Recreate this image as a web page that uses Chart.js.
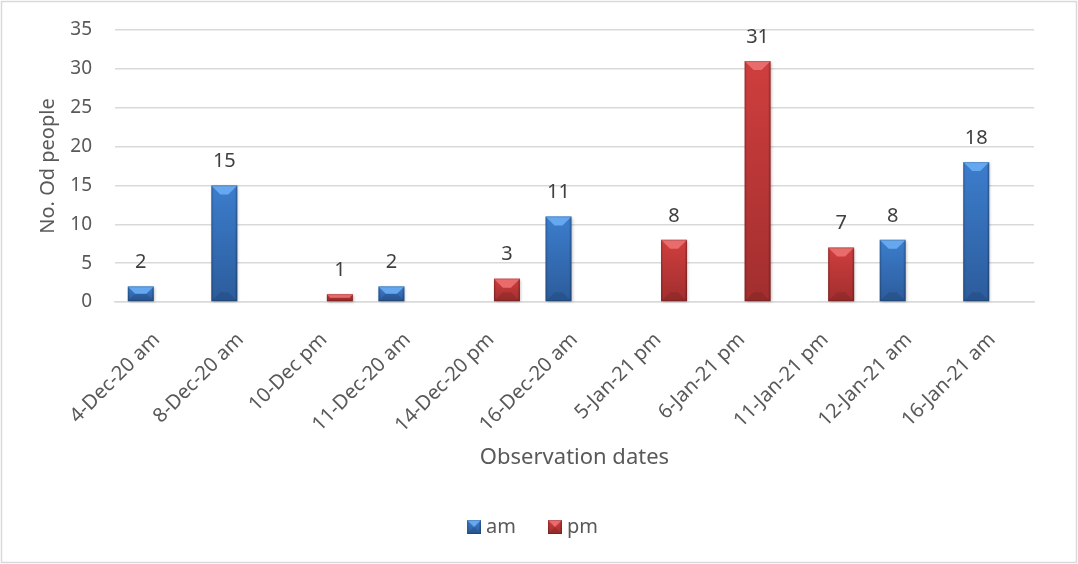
<!DOCTYPE html>
<html>
<head>
<meta charset="utf-8">
<title>Observations</title>
<script src="https://cdn.jsdelivr.net/npm/chart.js@4/dist/chart.umd.min.js"></script>
<style>
  html, body { margin: 0; padding: 0; background: #fff; }
  #wrap { width: 1078px; height: 564px; }
</style>
</head>
<body>
<div id="wrap"><canvas id="myChart" width="1078" height="564"></canvas></div>
<script>
// observation sessions and head counts
const categories = ['4-Dec-20 am', '8-Dec-20 am', '10-Dec pm', '11-Dec-20 am', '14-Dec-20 pm',
  '16-Dec-20 am', '5-Jan-21 pm', '6-Jan-21 pm', '11-Jan-21 pm', '12-Jan-21 am', '16-Jan-21 am'];
const amValues = [2, 15, null, 2, null, 11, null, null, null, 8, 18];
const pmValues = [null, null, 1, null, 3, null, 8, 31, 7, null, null];
const yMax = 35;
const yStep = 5;

const FONT = 'Noto Sans';
const TEXT = '#595959';

const palette = {
  am: { base: '#3c7dcc', light: '#66a8f0', dark: '#2c5c9c' },
  pm: { base: '#cf3e3e', light: '#ea6b6b', dark: '#a22e2e' },
};

function poly(ctx, pts, fill) {
  ctx.beginPath();
  ctx.moveTo(pts[0][0], pts[0][1]);
  for (let i = 1; i < pts.length; i++) ctx.lineTo(pts[i][0], pts[i][1]);
  ctx.closePath();
  ctx.fillStyle = fill;
  ctx.fill();
}

// bevelled bar face
function bevelBar(ctx, l, r, t, b, c, shadow) {
  const w = r - l, h = b - t;
  if (h <= 0) return;
  const d = Math.min(9, w / 2, h / 2);
  const g = ctx.createLinearGradient(0, t, 0, b);
  g.addColorStop(0, c.base);
  g.addColorStop(1, c.dark);
  ctx.save();
  if (shadow) {
    ctx.shadowColor = 'rgba(0,0,0,0.28)';
    ctx.shadowBlur = 3;
    ctx.shadowOffsetX = 1;
    ctx.shadowOffsetY = 1;
  }
  ctx.fillStyle = g;
  ctx.fillRect(l, t, w, h);
  ctx.restore();
  const s = Math.min(2, d);
  poly(ctx, [[l, t], [l + s, t + s], [l + s, b - s], [l, b]], 'rgba(0,0,0,0.08)');
  poly(ctx, [[r, t], [r - s, t + s], [r - s, b - s], [r, b]], 'rgba(0,0,0,0.12)');
  poly(ctx, [[l, b], [l + d, b - d], [r - d, b - d], [r, b]], 'rgba(0,0,0,0.1)');
  poly(ctx, [[l, t], [r, t], [r - d, t + d], [l + d, t + d]], c.light);
  ctx.strokeStyle = 'rgba(0,0,0,0.15)';
  ctx.lineWidth = 1;
  ctx.strokeRect(l + 0.5, t + 0.5, w - 1, h - 1);
}

// legend swatch, sitting at the right of a wider transparent canvas
function legendIcon(c) {
  const cv = document.createElement('canvas');
  cv.width = 24;
  cv.height = 14;
  const cx = cv.getContext('2d');
  bevelBar(cx, 10, 24, 0, 14, c, false);
  return cv;
}

const bevelPlugin = {
  id: 'bevel',
  afterDatasetsDraw(chart) {
    const ctx = chart.ctx;
    const keys = ['am', 'pm'];
    chart.data.datasets.forEach((ds, i) => {
      const meta = chart.getDatasetMeta(i);
      meta.data.forEach((bar, j) => {
        if (ds.data[j] == null) return;
        const half = bar.width / 2;
        bevelBar(ctx, bar.x - half, bar.x + half, bar.y, bar.base, palette[keys[i]], true);
        ctx.save();
        ctx.fillStyle = '#404040';
        ctx.font = `20px "${FONT}"`;
        ctx.textAlign = 'center';
        ctx.textBaseline = 'middle';
        ctx.fillText(String(ds.data[j]), bar.x, bar.y - 24);
        ctx.restore();
      });
    });
  },
};

const framePlugin = {
  id: 'frame',
  beforeDraw(chart) {
    const ctx = chart.ctx;
    ctx.save();
    ctx.fillStyle = '#fff';
    ctx.fillRect(0, 0, chart.width, chart.height);
    ctx.restore();
  },
  afterDraw(chart) {
    const ctx = chart.ctx;
    ctx.save();
    ctx.strokeStyle = '#d9d9d9';
    ctx.lineWidth = 1.5;
    ctx.strokeRect(1.5, 1.5, chart.width - 3, chart.height - 3);
    ctx.restore();
  },
};

const icons = [legendIcon(palette.am), legendIcon(palette.pm)];

const data = {
  labels: categories,
  datasets: [
    { label: 'am', data: amValues, backgroundColor: 'rgba(0,0,0,0)' },
    { label: 'pm', data: pmValues, backgroundColor: 'rgba(0,0,0,0)' },
  ],
};

const config = {
  type: 'bar',
  data: data,
  options: {
    responsive: false,
    animation: false,
    categoryPercentage: 0.766,
    barPercentage: 0.8125,
    layout: { padding: { top: 30, right: 44, left: 26, bottom: 17 } },
    plugins: {
      tooltip: { enabled: false },
      legend: {
        position: 'bottom',
        labels: {
          usePointStyle: true,
          pointStyleWidth: 14,
          color: TEXT,
          font: { family: FONT, size: 20 },
          padding: 27,
          generateLabels: (chart) => chart.data.datasets.map((ds, i) => ({
            text: ds.label,
            pointStyle: icons[i],
            fillStyle: 'transparent',
            strokeStyle: 'transparent',
            lineWidth: 0,
            fontColor: TEXT,
            hidden: false,
            datasetIndex: i,
          })),
        },
      },
    },
    scales: {
      x: {
        grid: { display: false },
        border: { display: true, color: '#d9d9d9', width: 1.5 },
        ticks: {
          color: TEXT,
          font: { family: FONT, size: 20 },
          minRotation: 45,
          maxRotation: 45,
          autoSkip: false,
          padding: 18,
        },
        title: {
          display: true,
          text: 'Observation dates',
          color: TEXT,
          font: { family: FONT, size: 22 },
          padding: { top: 0, bottom: 19 },
        },
        afterFit(scale) { scale.height = 188; },
      },
      y: {
        min: 0,
        max: yMax,
        ticks: {
          stepSize: yStep,
          color: TEXT,
          font: { family: FONT, size: 19 },
          padding: 23,
        },
        grid: { color: '#d9d9d9', lineWidth: 1.5, drawTicks: false },
        border: { display: false },
        title: {
          display: true,
          text: 'No. Od people',
          color: TEXT,
          font: { family: FONT, size: 20 },
          padding: { top: 10, bottom: 0 },
        },
        afterFit(scale) {
          scale.width = 89;
          scale.paddingTop = 0;
          scale.paddingBottom = 0;
        },
      },
    },
  },
  plugins: [framePlugin, bevelPlugin],
};

const myChart = new Chart(document.getElementById('myChart'), config);
</script>
</body>
</html>
